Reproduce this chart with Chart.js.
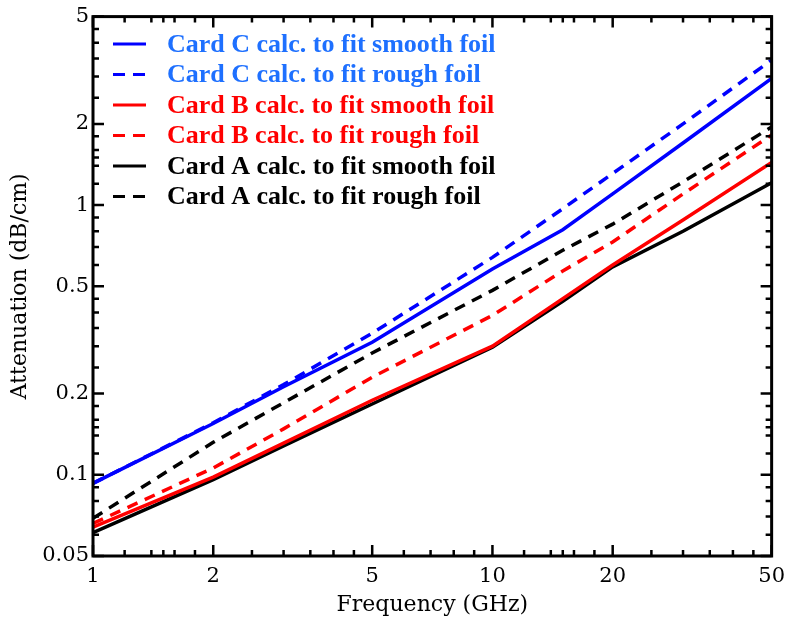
<!DOCTYPE html>
<html>
<head>
<meta charset="utf-8">
<script src="https://cdn.jsdelivr.net/npm/chart.js@4"></script>
<style>
  html, body { margin: 0; padding: 0; background: #fff; }
  canvas { display: block; }
</style>
</head>
<body>
<canvas id="attChart" width="793" height="621"></canvas>
<script>
// frequency points (GHz) and attenuation (dB/cm)
const freq = [1, 2, 3, 5, 10, 15, 20, 30, 50];
const cardCSmooth = [0.093, 0.155, 0.212, 0.31, 0.58, 0.81, 1.10, 1.70, 2.95];
const cardCRough  = [0.093, 0.156, 0.216, 0.335, 0.64, 0.97, 1.31, 2.0, 3.45];
const cardBSmooth = [0.064, 0.098, 0.131, 0.189, 0.30, 0.45, 0.60, 0.88, 1.44];
const cardBRough  = [0.066, 0.106, 0.148, 0.23, 0.39, 0.57, 0.73, 1.10, 1.82];
const cardASmooth = [0.061, 0.096, 0.128, 0.183, 0.297, 0.44, 0.59, 0.80, 1.21];
const cardARough  = [0.069, 0.132, 0.185, 0.283, 0.483, 0.68, 0.85, 1.22, 1.95];

const xTicks = [1, 2, 5, 10, 20, 50];
const yTicks = [0.05, 0.1, 0.2, 0.5, 1, 2, 5];
// minor tick multipliers inside each decade
const minorMult = [1.2, 1.4, 1.5, 1.6, 1.8, 2.5, 3, 3.5, 4, 4.5, 6, 7, 8, 9];

const legendNames = [
    'Card C calc. to fit smooth foil',
    'Card C calc. to fit rough foil',
    'Card B calc. to fit smooth foil',
    'Card B calc. to fit rough foil',
    'Card A calc. to fit smooth foil',
    'Card A calc. to fit rough foil'
];
const legendTextColors = ['#1e70ff', '#1e70ff', '#ff0000', '#ff0000', '#000000', '#000000'];

const DASH = [11, 8];

function pts(arr) {
    return freq.map((f, i) => ({ x: f, y: arr[i] }));
}

function makeSet(label, arr, color, dashed) {
    return {
        label: label,
        data: pts(arr),
        borderColor: color,
        backgroundColor: color,
        borderWidth: 3.5,
        borderDash: dashed ? DASH : [],
        pointRadius: 0,
        fill: false,
        tension: 0
    };
}

function minorValues(min, max) {
    const out = [];
    for (let d = 0.01; d <= 100; d *= 10) {
        minorMult.forEach(m => {
            const v = +(m * d).toPrecision(6);
            if (v > min && v < max) out.push(v);
        });
    }
    return out;
}

// inward ticks on all four sides, plus frame and legend
const framePlugin = {
    id: 'frame',
    afterDraw(chart) {
        const ctx = chart.ctx;
        const { left, right, top, bottom } = chart.chartArea;
        const xs = chart.scales.x, ys = chart.scales.y;
        ctx.save();
        ctx.strokeStyle = '#000';
        ctx.lineWidth = 2.5;
        ctx.beginPath();
        const tick = (v, len, isX) => {
            if (isX) {
                const px = xs.getPixelForValue(v);
                ctx.moveTo(px, bottom); ctx.lineTo(px, bottom - len);
                ctx.moveTo(px, top); ctx.lineTo(px, top + len);
            } else {
                const py = ys.getPixelForValue(v);
                ctx.moveTo(left, py); ctx.lineTo(left + len, py);
                ctx.moveTo(right, py); ctx.lineTo(right - len, py);
            }
        };
        xTicks.forEach(v => tick(v, 11, true));
        yTicks.forEach(v => tick(v, 11, false));
        minorValues(1, 50).forEach(v => tick(v, 6, true));
        minorValues(0.05, 5).forEach(v => tick(v, 6, false));
        ctx.stroke();

        ctx.lineWidth = 3;
        ctx.strokeRect(left, top, right - left, bottom - top);

        // legend
        ctx.font = 'bold 26px "Liberation Serif", "Times New Roman", serif';
        ctx.textBaseline = 'middle';
        chart.data.datasets.forEach((ds, i) => {
            const yy = 44 + i * 30.5;
            ctx.strokeStyle = ds.borderColor;
            ctx.lineWidth = 3;
            ctx.setLineDash(ds.borderDash.length ? [12, 8] : []);
            ctx.beginPath();
            ctx.moveTo(113, yy);
            ctx.lineTo(146, yy);
            ctx.stroke();
            ctx.setLineDash([]);
            ctx.fillStyle = legendTextColors[i];
            ctx.fillText(legendNames[i], 167, yy + 1);
        });
        ctx.restore();
    }
};

const tickFont = { family: '"DejaVu Serif", serif', size: 21 };
const titleFont = { family: '"DejaVu Serif", serif', size: 22 };

new Chart(document.getElementById('attChart'), {
    type: 'line',
    data: {
        datasets: [
            makeSet(legendNames[0], cardCSmooth, '#0000ff', false),
            makeSet(legendNames[1], cardCRough, '#0000ff', true),
            makeSet(legendNames[2], cardBSmooth, '#ff0000', false),
            makeSet(legendNames[3], cardBRough, '#ff0000', true),
            makeSet(legendNames[4], cardASmooth, '#000000', false),
            makeSet(legendNames[5], cardARough, '#000000', true)
        ]
    },
    options: {
        responsive: false,
        animation: false,
        layout: { padding: { top: 16, right: 17, bottom: 0, left: 0 } },
        plugins: {
            legend: { display: false },
            tooltip: { enabled: false }
        },
        scales: {
            x: {
                type: 'logarithmic',
                min: 1,
                max: 50,
                grid: { display: false, drawTicks: false },
                border: { display: false },
                afterBuildTicks: s => { s.ticks = xTicks.map(v => ({ value: v })); },
                afterFit: s => { s.height = 65; },
                ticks: {
                    font: tickFont,
                    color: '#000',
                    padding: 8,
                    maxRotation: 0,
                    autoSkip: false,
                    callback: v => String(v)
                },
                title: {
                    display: true,
                    text: 'Frequency (GHz)',
                    font: titleFont,
                    color: '#000',
                    padding: { top: 0, bottom: 3 }
                }
            },
            y: {
                type: 'logarithmic',
                min: 0.05,
                max: 5,
                grid: { display: false, drawTicks: false },
                border: { display: false },
                afterBuildTicks: s => { s.ticks = yTicks.map(v => ({ value: v })); },
                afterFit: s => { s.width = 93; },
                ticks: {
                    font: tickFont,
                    color: '#000',
                    padding: 4,
                    autoSkip: false,
                    callback: v => String(v)
                },
                title: {
                    display: true,
                    text: 'Attenuation (dB/cm)',
                    font: titleFont,
                    color: '#000',
                    padding: { top: 7, bottom: 0 }
                }
            }
        }
    },
    plugins: [framePlugin]
});
</script>
</body>
</html>
